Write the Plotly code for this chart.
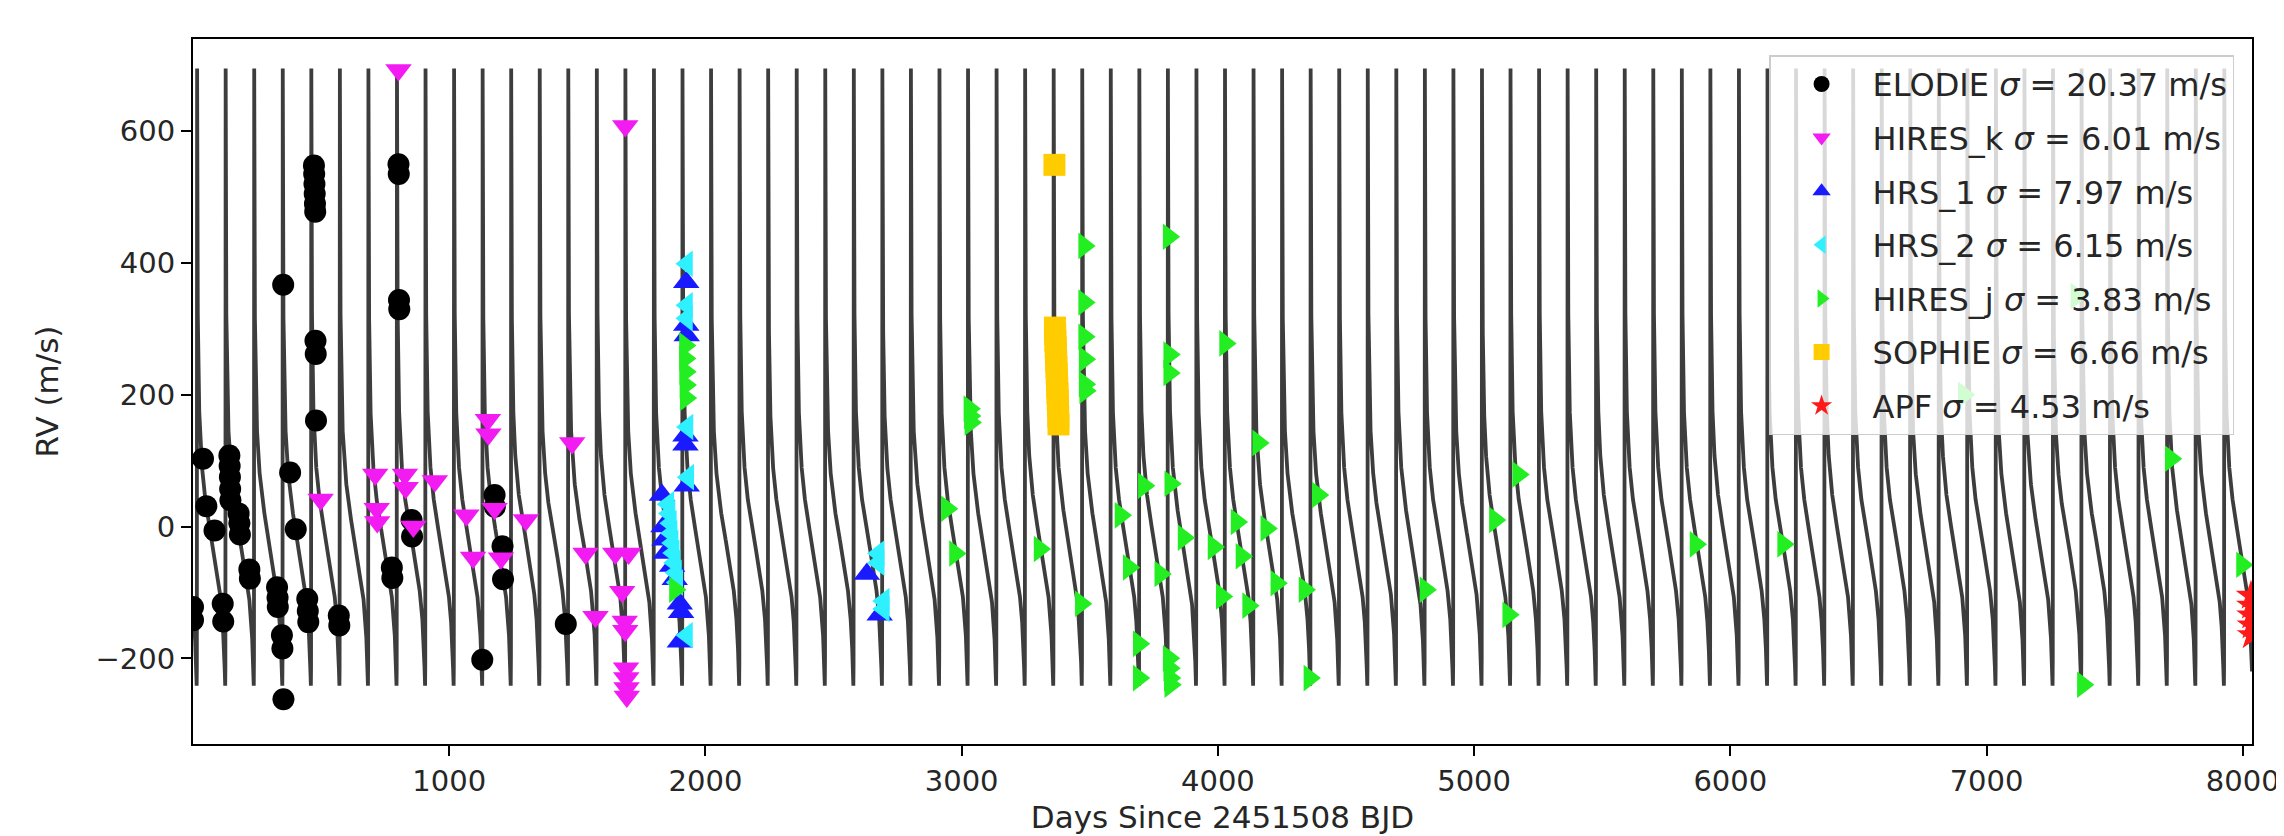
import numpy as np
import plotly.graph_objects as go

# ---------------- data ----------------
elodie_t = [0, 0, 39, 52, 84, 116, 118, 142, 143, 144, 145, 146, 178, 181, 183, 220, 222,
            328, 330, 331, 347, 349, 352, 353, 379, 401, 446, 448, 450,
            472, 473, 474, 475, 476, 477, 478, 479, 480, 569, 571, 776, 778,
            802, 803, 804, 805, 853, 855, 1129, 1177, 1178, 1208, 1210, 1455]
elodie_rv = [-122, -142, 103, 31, -6, -117, -144, 108, 92, 75, 57, 40, 20, 5, -12, -65, -79,
             -92, -108, -122, -165, -185, 367, -262, 82, -4, -110, -128, -145,
             548, 535, 520, 505, 490, 478, 282, 262, 161, -135, -150, -62, -78,
             550, 535, 344, 330, 10, -15, -202, 48, 30, -30, -80, -148]

hiresk_t = [498, 711, 717, 719, 802, 827, 830, 860, 944, 1067, 1093, 1151, 1153, 1177, 1202,
            1299, 1480, 1532, 1571, 1648, 1687, 1675, 1685, 1687, 1700, 1690, 1691, 1692, 1693]
hiresk_rv = [41, 79, 27, 7, 693, 79, 59, 0, 69, 17, -47, 162, 140, 27, -48,
             10, 127, -41, -137, -41, 608, -99, -144, -158, -41, -215, -230, -245, -258]

hrs1_t = [1925, 1925, 1927, 1922, 1922, 1927, 1830, 1836, 1840, 1845, 1870, 1880, 1900, 1905, 1900,
          2630, 2680]
hrs1_rv = [371, 306, 290, 138, 124, 62, 48, 0, -20, -40, -60, -80, -117, -130, -175,
           -72, -134]

hrs2_t = [1928, 1928, 1928, 1930, 1933, 1855, 1860, 1865, 1868, 1872, 1876, 1880, 1885, 1890, 1928,
          2676, 2676, 2696, 2696]
hrs2_rv = [399, 336, 316, 151, 75, 34, 20, 5, -10, -25, -40, -55, -70, -85, -165,
           -41, -55, -113, -125]

hiresj_t = [1920, 1920, 1921, 1922, 1923, 1881,
            2942, 2974, 3030, 3032, 3034,
            3304, 3465, 3478, 3478, 3478, 3480, 3480, 3482,
            3620, 3652, 3691, 3691, 3711,
            3775, 3808, 3810, 3810, 3814, 3808, 3810, 3812, 3814,
            3866, 3983, 4015, 4028, 4073, 4092, 4118, 4157, 4189, 4228, 4338, 4357, 4390, 4810,
            5081, 5133, 5172, 5864, 6206, 6911, 7351, 7376, 7719, 7997]
hiresj_rv = [275, 255, 235, 215, 195, -96,
             27, -41, 179, 168, 158,
             -34, -117, 426, 340, 288, 254, 216, 206,
             17, -62, -178, -230, 62,
             -72, 440, 261, 233, 65, -200, -215, -230, -240,
             -17, -31, -106, 278, 7, -45, -120, 127, -3, -86, -96, -230, 48, -96,
             10, -134, 79, -27, -27, 200, 350, -240, 103, -58]

sophie_t = [3362, 3364, 3365, 3366, 3367, 3368, 3369, 3370, 3371, 3372, 3373, 3374, 3375, 3376, 3377, 3378]
sophie_rv = [549, 302, 292, 282, 272, 262, 252, 242, 232, 222, 212, 202, 192, 182, 167, 155]

apf_t = [8032, 8033, 8034, 8035, 8036]
apf_rv = [-105, -120, -135, -150, -165]

legend_labels = ["ELODIE <i>σ</i> = 20.37 m/s", "HIRES_k <i>σ</i> = 6.01 m/s",
                 "HRS_1 <i>σ</i> = 7.97 m/s", "HRS_2 <i>σ</i> = 6.15 m/s",
                 "HIRES_j <i>σ</i> = 3.83 m/s", "SOPHIE <i>σ</i> = 6.66 m/s",
                 "APF <i>σ</i> = 4.53 m/s"]

# Keplerian model parameters (spike spacing, extremes)
period = 111.4367
tp = 2913.1
ecc = 0.932
omega_deg = 301.3
k_amp = 468.5
t_start, t_end = 0, 8036

x_ticks = [1000, 2000, 3000, 4000, 5000, 6000, 7000, 8000]
y_ticks = [-200, 0, 200, 400, 600]
y_ticktext = ["−200", "0", "200", "400", "600"]

# ---------------- model curve ----------------
w = np.deg2rad(omega_deg)
E = np.linspace(-np.pi, np.pi, 900)
M = E - ecc * np.sin(E)
nu = 2 * np.arctan(np.sqrt((1 + ecc) / (1 - ecc)) * np.tan(E / 2))
rv_one = k_amp * (np.cos(nu + w) + ecc * np.cos(w))
n0 = int(np.floor((t_start - tp) / period)) - 1
n1 = int(np.ceil((t_end - tp) / period)) + 1
mt, mrv = [], []
for n in range(n0, n1 + 1):
    tt = tp + n * period + M / (2 * np.pi) * period
    mt.append(tt)
    mrv.append(rv_one)
mt = np.concatenate(mt)
mrv = np.concatenate(mrv)
sel = (mt >= t_start) & (mt <= t_end)
mt, mrv = mt[sel], mrv[sel]

FONT = "DejaVu Sans"
fig = go.Figure()
fig.add_trace(go.Scatter(x=mt, y=mrv, mode="lines", line=dict(color="#3d3d3d", width=3.8),
                         showlegend=False, hoverinfo="skip"))

series = [
    (elodie_t, elodie_rv, "circle", "#000000", 22),
    (hiresk_t, hiresk_rv, "triangle-down", "#f21cf2", 23),
    (hrs1_t, hrs1_rv, "triangle-up", "#1a1aff", 23),
    (hrs2_t, hrs2_rv, "triangle-left", "#2ef0ff", 23),
    (hiresj_t, hiresj_rv, "triangle-right", "#22ee22", 23),
    (sophie_t, sophie_rv, "square", "#ffcc00", 22),
    (apf_t, apf_rv, "star", "#ff1a1a", 23),
]
for i, (t, rv, sym, col, sz) in enumerate(series):
    fig.add_trace(go.Scatter(x=t, y=rv, mode="markers", name=legend_labels[i],
                             legendgroup="g%d" % i,
                             marker=dict(symbol=sym, color=col, size=sz, line=dict(width=0))))

fig.update_layout(
    width=2284, height=836,
    margin=dict(l=185, r=27, t=31, b=100),
    paper_bgcolor="white", plot_bgcolor="white",
    font=dict(family=FONT, size=29, color="#262626"),
    showlegend=True,
    legend=dict(x=0.9913, xanchor="right", y=0.977, yanchor="top",
                bgcolor="rgba(255,255,255,0.8)", bordercolor="#cccccc", borderwidth=1.5,
                font=dict(family=FONT, size=32, color="#262626"),
                traceorder="grouped", tracegroupgap=9, itemsizing="trace", itemwidth=92),
    xaxis=dict(range=[t_start, t_end], tickmode="array", tickvals=x_ticks,
               showline=True, mirror=True, linecolor="black", linewidth=2,
               ticks="outside", ticklen=10, tickwidth=2, tickcolor="black",
               tickfont=dict(size=29), ticklabeloverflow="allow",
               showgrid=False, zeroline=False,
               title=dict(text="Days Since 2451508 BJD", font=dict(size=31), standoff=10)),
    yaxis=dict(range=[-330, 740], tickmode="array", tickvals=y_ticks, ticktext=y_ticktext,
               showline=True, mirror=True, linecolor="black", linewidth=2,
               ticks="outside", ticklen=10, tickwidth=2, tickcolor="black",
               tickfont=dict(size=29),
               showgrid=False, zeroline=False,
               title=dict(text="RV (m/s)", font=dict(size=31), standoff=28)),
)

fig.write_html("out.html")
